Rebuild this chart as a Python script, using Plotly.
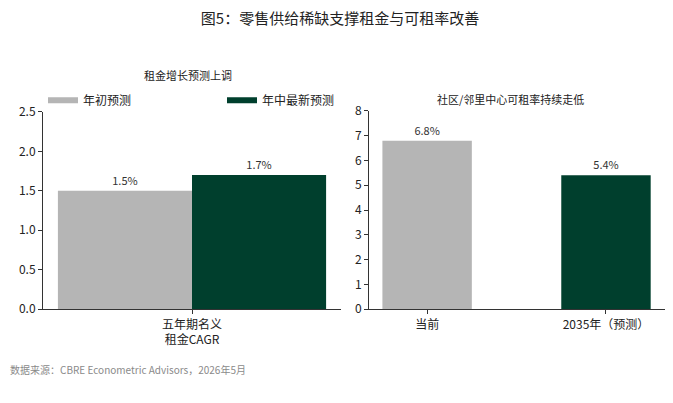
import plotly.graph_objects as go
from plotly.subplots import make_subplots

# left panel: five-year nominal rent CAGR forecasts
rent_category = ["五年期名义<br>租金CAGR"]
rent_initial = [1.5]
rent_latest = [1.7]
series_names = ["年初预测", "年中最新预测"]

# right panel: community / neighborhood center availability rate
avail_categories = ["当前", "2035年（预测）"]
avail_values = [6.8, 5.4]

GRAY = "#b5b5b5"
GREEN = "#003f2d"
FONT = "Noto Sans CJK SC"
W, H = 673, 403


def px_x(p):
    # page pixel -> paper fraction (the page body adds an 8px offset)
    return (p - 8) / W


def px_y(p):
    return 1 - (p - 8) / H


fig = make_subplots(rows=1, cols=2)

fig.add_trace(go.Bar(x=rent_category, y=rent_initial, name=series_names[0],
                     legendgroup="a", showlegend=False,
                     marker=dict(color=GRAY, line=dict(width=0)),
                     texttemplate="%{y:.1f}%", textposition="outside",
                     cliponaxis=False), row=1, col=1)
fig.add_trace(go.Bar(x=rent_category, y=rent_latest, name=series_names[1],
                     legendgroup="b", showlegend=False,
                     marker=dict(color=GREEN, line=dict(width=0)),
                     texttemplate="%{y:.1f}%", textposition="outside",
                     cliponaxis=False), row=1, col=1)
fig.add_trace(go.Bar(x=avail_categories, y=avail_values, showlegend=False,
                     marker=dict(color=[GRAY, GREEN], line=dict(width=0)),
                     texttemplate="%{y:.1f}%", textposition="outside",
                     width=0.5, cliponaxis=False), row=1, col=2)

# legend entries drawn as flat swatches
for name, color, grp in [(series_names[0], GRAY, "a"), (series_names[1], GREEN, "b")]:
    fig.add_trace(go.Scatter(x=[None], y=[None], mode="lines", name=name,
                             legendgroup=grp, line=dict(color=color, width=6),
                             hoverinfo="skip"), row=1, col=1)

axis_common = dict(showline=True, linecolor="#333333", linewidth=1,
                   ticks="outside", ticklen=4, tickcolor="#333333",
                   showgrid=False, zeroline=False,
                   tickfont=dict(size=12, color="#222222"))

fig.update_xaxes(axis_common, row=1, col=1, domain=[px_x(43), px_x(341)])
fig.update_xaxes(axis_common, row=1, col=2, domain=[px_x(369), px_x(665)],
                 range=[-0.325, 1.33])
fig.update_yaxes(axis_common, row=1, col=1, domain=[px_y(312), px_y(106)],
                 range=[0, 2.5], dtick=0.5, tickformat=".1f")
fig.update_yaxes(axis_common, row=1, col=2, domain=[px_y(312), px_y(105)],
                 range=[0, 8], dtick=1)

fig.update_layout(
    width=W, height=H,
    margin=dict(l=0, r=0, t=0, b=0),
    plot_bgcolor="white", paper_bgcolor="white",
    font=dict(family=FONT, size=11, color="#333333"),
    barmode="group", bargap=0.1, bargroupgap=0,
    title=dict(text="图5：零售供给稀缺支撑租金与可租率改善",
               x=px_x(340), xanchor="center", y=px_y(19), yanchor="middle",
               font=dict(size=15, color="#222222")),
    legend=dict(orientation="h", x=px_x(43), xanchor="left",
                y=px_y(94), yanchor="middle", entrywidth=134,
                font=dict(size=12, color="#222222"), bgcolor="rgba(0,0,0,0)",
                borderwidth=0),
    annotations=[
        dict(text="租金增长预测上调", x=px_x(188), y=px_y(68), xref="paper",
             yref="paper", xanchor="center", yanchor="middle", showarrow=False,
             font=dict(size=11, color="#222222")),
        dict(text="社区/邻里中心可租率持续走低", x=px_x(510), y=px_y(93),
             xref="paper", yref="paper", xanchor="center", yanchor="middle",
             showarrow=False, font=dict(size=11, color="#222222")),
        dict(text="数据来源：CBRE Econometric Advisors，2026年5月", x=0,
             xanchor="left", y=px_y(375), yanchor="middle", xref="paper",
             yref="paper", showarrow=False, font=dict(size=10, color="#8a8a8a")),
    ],
)

fig.write_html("out.html")
